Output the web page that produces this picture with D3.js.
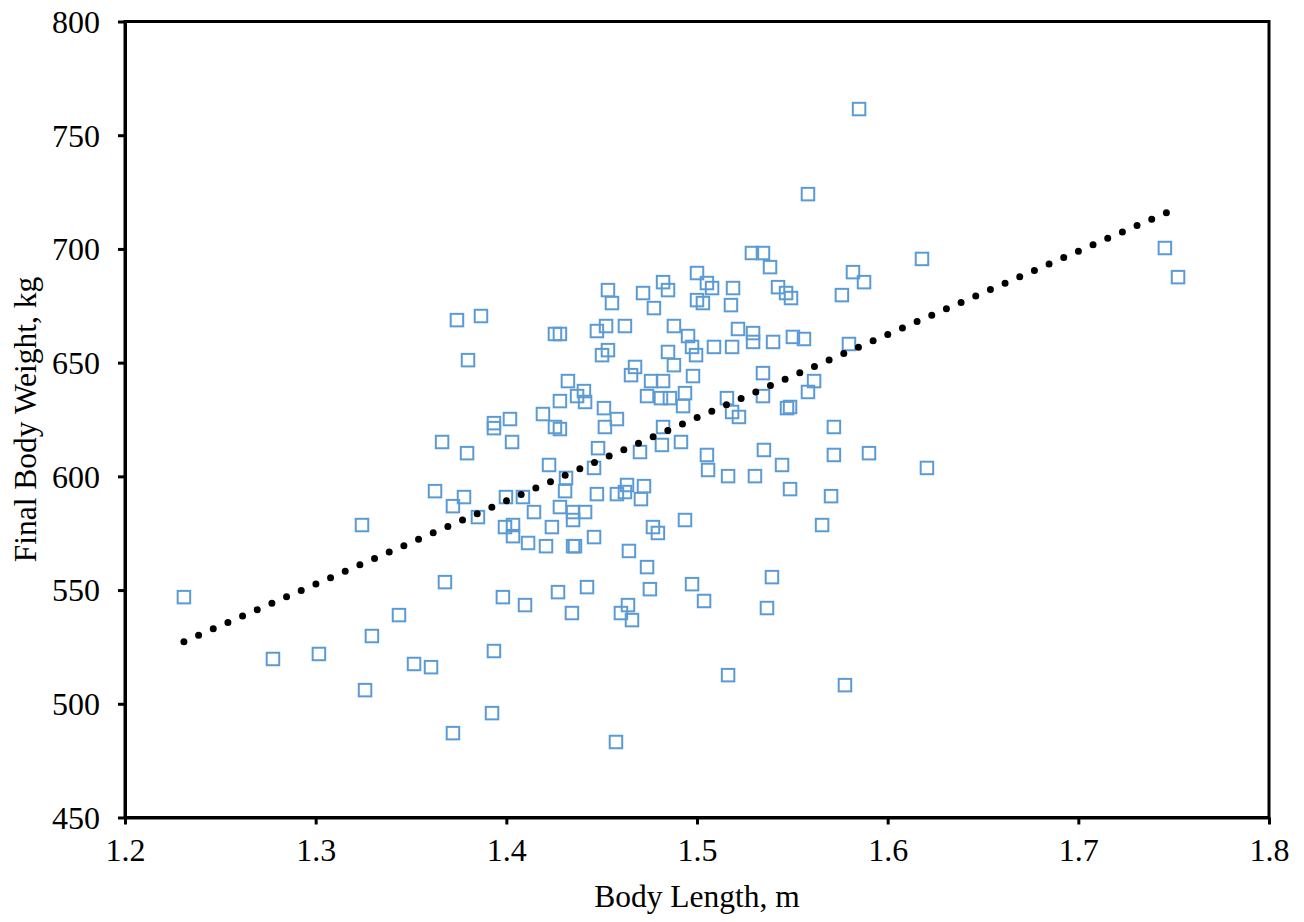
<!DOCTYPE html>
<html>
<head>
<meta charset="utf-8">
<script src="https://cdn.jsdelivr.net/npm/d3@7"></script>
<style>
  html, body { margin: 0; padding: 0; background: #fff; }
  svg { display: block; }
  text { font-family: "Liberation Serif", "Times New Roman", serif; fill: #000; }
</style>
</head>
<body>
<svg id="chart" width="1304" height="922"></svg>
<script>
// Body length (m)
const bodyLength = [
  1.2309, 1.2776, 1.3017, 1.3243, 1.3259, 1.3295, 1.3437, 1.3516, 1.3605, 1.3626,
  1.3663, 1.3678, 1.3720, 1.3720, 1.3741, 1.3778, 1.3794, 1.3799, 1.3851, 1.3867,
  1.3925, 1.3935, 1.3935, 1.3935, 1.3982, 1.3993, 1.3998, 1.4019, 1.4030, 1.4035,
  1.4035, 1.4087, 1.4098, 1.4114, 1.4145, 1.4192, 1.4208, 1.4224, 1.4239, 1.4255,
  1.4281, 1.4255, 1.4281, 1.4271, 1.4281, 1.4281, 1.4308, 1.4313, 1.4323, 1.4350,
  1.4350, 1.4350, 1.4344, 1.4360, 1.4371, 1.4407, 1.4413, 1.4413, 1.4423, 1.4460,
  1.4460, 1.4475, 1.4481, 1.4475, 1.4502, 1.4512, 1.4517, 1.4523, 1.4533, 1.4533,
  1.4554, 1.4580, 1.4580, 1.4575, 1.4601, 1.4622, 1.4633, 1.4622, 1.4643, 1.4638,
  1.4659, 1.4654, 1.4675, 1.4701, 1.4706, 1.4722, 1.4717, 1.4738, 1.4738, 1.4759,
  1.4753, 1.4769, 1.4774, 1.4795, 1.4811, 1.4822, 1.4822, 1.4816, 1.4822, 1.4848,
  1.4848, 1.4858, 1.4879, 1.4879, 1.4916, 1.4927, 1.4937, 1.4937, 1.4953, 1.4974,
  1.4979, 1.4974, 1.5000, 1.4995, 1.5000, 1.5031, 1.5052, 1.5037, 1.5052, 1.5058,
  1.5079, 1.5089, 1.5157, 1.5163, 1.5163, 1.5184, 1.5184, 1.5178, 1.5189, 1.5215,
  1.5220, 1.5288, 1.5294, 1.5294, 1.5304, 1.5346, 1.5346, 1.5346, 1.5351, 1.5367,
  1.5383, 1.5393, 1.5399, 1.5425, 1.5446, 1.5467, 1.5472, 1.5488, 1.5493, 1.5488,
  1.5503, 1.5561, 1.5582, 1.5582, 1.5614, 1.5656, 1.5703, 1.5718, 1.5718, 1.5760,
  1.5776, 1.5797, 1.5818, 1.5850, 1.5876, 1.5902, 1.6180, 1.6206, 1.7454, 1.7523
];
// Final body weight (kg)
const finalWeight = [
  546.9, 519.7, 521.9, 578.6, 506.0, 529.8, 539.0, 517.5, 516.1, 593.5,
  615.1, 553.5, 586.9, 487.1, 668.7, 590.9, 610.2, 651.1, 582.1, 670.5,
  495.9, 623.4, 621.2, 523.2, 546.9, 577.7, 590.9, 625.2, 615.1, 578.6,
  573.7, 590.9, 543.4, 570.7, 584.3, 627.4, 569.3, 605.0, 577.7, 662.6,
  662.6, 621.7, 620.8, 549.1, 633.1, 586.5, 593.5, 599.3, 641.9, 580.8,
  569.3, 584.3, 539.9, 569.3, 635.3, 637.5, 632.7, 584.3, 551.3, 573.3,
  603.7, 592.2, 612.4, 663.9, 653.3, 630.0, 621.7, 666.1, 655.5, 681.9,
  676.2, 625.2, 592.2, 483.2, 539.9, 666.1, 596.2, 593.1, 567.2, 543.4,
  536.8, 644.5, 648.1, 610.7, 590.0, 595.7, 680.6, 635.3, 560.1, 641.9,
  550.4, 577.7, 674.0, 575.1, 634.4, 641.9, 685.4, 613.8, 621.7, 681.9,
  654.7, 634.4, 648.9, 666.1, 615.1, 630.9, 636.6, 580.8, 661.7, 656.9,
  644.1, 552.6, 689.4, 653.3, 677.5, 676.2, 609.4, 545.2, 685.0, 602.8,
  682.8, 656.9, 634.4, 600.1, 512.6, 628.3, 656.9, 675.3, 682.8, 664.8,
  626.1, 698.2, 663.0, 659.1, 600.1, 698.2, 645.4, 635.3, 611.6, 542.1,
  692.0, 555.7, 659.1, 683.2, 605.0, 680.6, 630.0, 630.5, 678.4, 594.4,
  661.3, 660.4, 637.1, 724.1, 641.9, 578.6, 591.3, 621.7, 609.4, 679.7,
  508.2, 658.2, 689.8, 761.5, 685.4, 610.2, 695.6, 603.7, 700.4, 687.6
];
// Axis ticks
const xTicks = [1.2, 1.3, 1.4, 1.5, 1.6, 1.7, 1.8];
const xTickLabels = ["1.2", "1.3", "1.4", "1.5", "1.6", "1.7", "1.8"];
const yTicks = [450, 500, 550, 600, 650, 700, 750, 800];
const yTickLabels = ["450", "500", "550", "600", "650", "700", "750", "800"];
// Linear trendline (kg = slope * m + intercept)
const trendSlope = [366.0];
const trendIntercept = [76.8];

(function () {
const svg = d3.select("#chart");
const mLeft = 125, mRight = 1269, mTop = 21.5, mBottom = 817.5;

const x = d3.scaleLinear().domain([1.2, 1.8]).range([mLeft, mRight]);
const y = d3.scaleLinear().domain([450, 800]).range([mBottom, mTop]);

// Frame
svg.append("rect")
  .attr("x", mLeft).attr("y", mTop)
  .attr("width", mRight - mLeft).attr("height", mBottom - mTop)
  .attr("fill", "none").attr("stroke", "#000").attr("stroke-width", 3);

// Axes
const xAxis = d3.axisBottom(x).tickValues(xTicks)
  .tickFormat((d, i) => xTickLabels[i]).tickSize(7).tickSizeOuter(0).tickPadding(14);
const yAxis = d3.axisLeft(y).tickValues(yTicks)
  .tickFormat((d, i) => yTickLabels[i]).tickSize(7).tickSizeOuter(0).tickPadding(18);

const gx = svg.append("g").attr("transform", `translate(0,${mBottom})`).call(xAxis);
const gy = svg.append("g").attr("transform", `translate(${mLeft},0)`).call(yAxis);
[gx, gy].forEach(g => {
  g.select(".domain").attr("stroke", "#000").attr("stroke-width", 3);
  g.selectAll(".tick line").attr("stroke", "#000").attr("stroke-width", 3);
  g.selectAll(".tick text")
    .attr("font-family", '"Liberation Serif", "Times New Roman", serif')
    .attr("font-size", 32).attr("fill", "#000");
});
gy.selectAll(".tick text").attr("dy", "0.34em");

// Points
const pts = bodyLength.map((v, i) => ({ x: v, y: finalWeight[i] }));
const s = 12.5;
svg.append("g").selectAll("rect").data(pts).join("rect")
  .attr("x", d => x(d.x) - s / 2)
  .attr("y", d => y(d.y) - s / 2)
  .attr("width", s).attr("height", s)
  .attr("fill", "none")
  .attr("stroke", "#5B9BD5")
  .attr("stroke-width", 2);

// Trendline (dotted)
const xMin = d3.min(bodyLength), xMax = d3.max(bodyLength);
const trend = [xMin, xMax].map(v => ({ x: v, y: trendSlope[0] * v + trendIntercept[0] }));
svg.append("path")
  .datum(trend)
  .attr("d", d3.line().x(d => x(d.x)).y(d => y(d.y)))
  .attr("fill", "none")
  .attr("stroke", "#000")
  .attr("stroke-width", 7)
  .attr("stroke-linecap", "round")
  .attr("stroke-dasharray", "0 16");

// Axis titles
svg.append("text")
  .attr("x", (mLeft + mRight) / 2).attr("y", 907)
  .attr("text-anchor", "middle")
  .attr("font-size", 31.5)
  .text("Body Length, m");

svg.append("text")
  .attr("transform", `translate(36,${(mTop + mBottom) / 2}) rotate(-90)`)
  .attr("text-anchor", "middle")
  .attr("font-size", 31.5)
  .text("Final Body Weight, kg");
})();
</script>
</body>
</html>
